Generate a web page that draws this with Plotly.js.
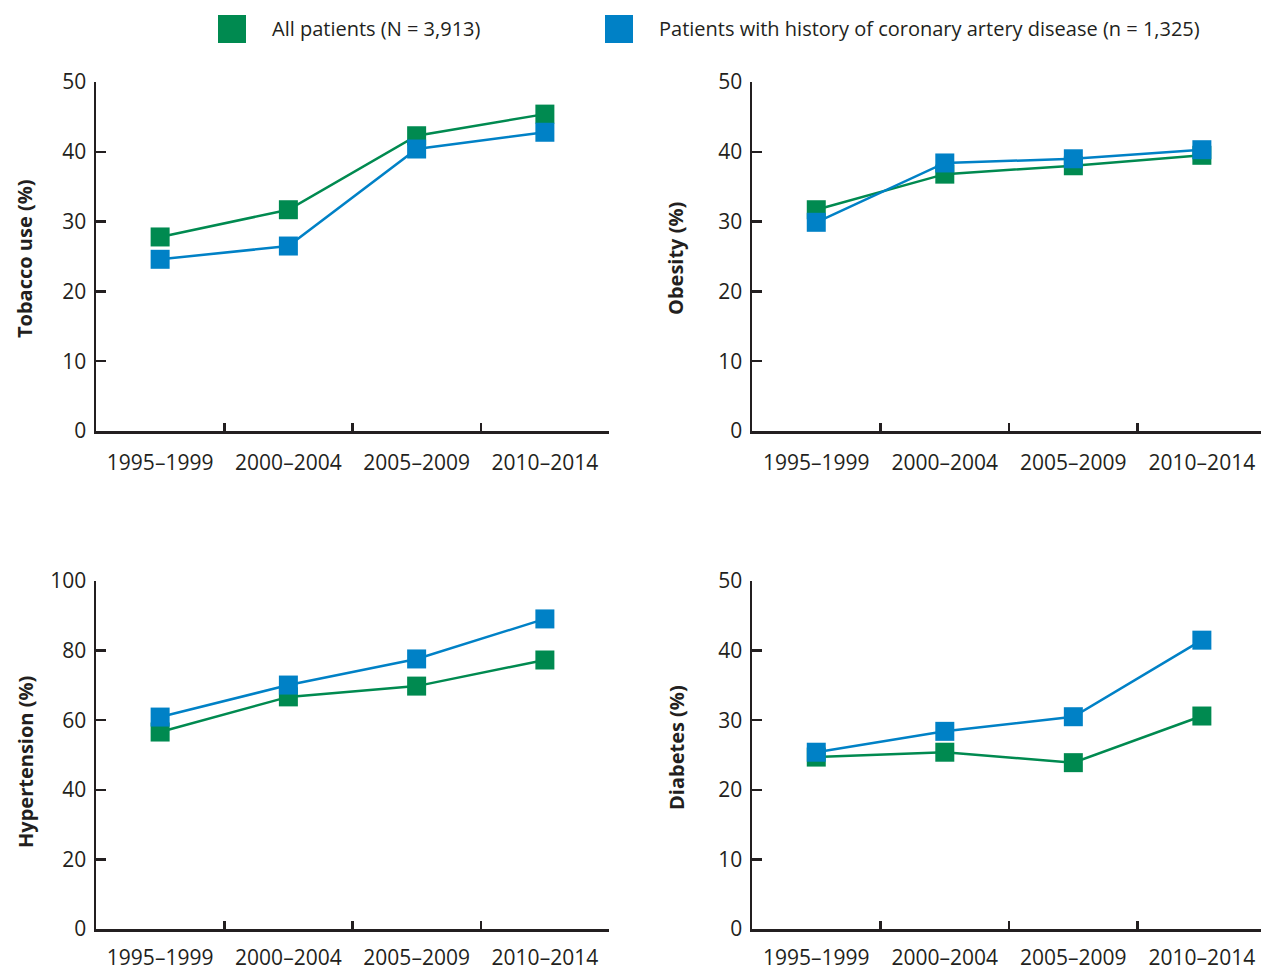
<!DOCTYPE html>
<html>
<head>
<meta charset="utf-8">
<script src="https://cdn.plot.ly/plotly-3.0.1.min.js"></script>
<style>html,body{margin:0;padding:0;background:#fff;}#chart{width:1261px;height:972px;}</style>
</head>
<body>
<div id="chart"></div>
<script>
var categories = ["1995\u20131999", "2000\u20132004", "2005\u20132009", "2010\u20132014"];
var seriesNames = ["All patients (N = 3,913)", "Patients with history of coronary artery disease (n = 1,325)"];

var tobaccoAll = [27.8, 31.7, 42.3, 45.4];
var tobaccoCAD = [24.6, 26.5, 40.4, 42.8];
var obesityAll = [31.7, 36.8, 38.0, 39.5];
var obesityCAD = [29.9, 38.4, 39.0, 40.3];
var hypertensionAll = [56.6, 66.7, 69.8, 77.3];
var hypertensionCAD = [60.9, 70.1, 77.6, 89.1];
var diabetesAll = [24.7, 25.4, 23.9, 30.6];
var diabetesCAD = [25.4, 28.4, 30.5, 41.5];

var panelTitles = ["Tobacco use (%)", "Obesity (%)", "Hypertension (%)", "Diabetes (%)"];
var yMax = [50, 50, 100, 50];
var yStep = [10, 10, 20, 10];

var GREEN = "#008a50";
var BLUE = "#0081c6";
var INK = "#231f20";
var FONT = "Open Sans";

var panels = [
  [tobaccoAll, tobaccoCAD],
  [obesityAll, obesityCAD],
  [hypertensionAll, hypertensionCAD],
  [diabetesAll, diabetesCAD]
];

var traces = [];
panels.forEach(function (p, i) {
  var ax = i === 0 ? "" : String(i + 1);
  [0, 1].forEach(function (s) {
    traces.push({
      type: "scatter",
      mode: "lines+markers",
      x: categories,
      y: p[s],
      xaxis: "x" + ax,
      yaxis: "y" + ax,
      name: seriesNames[s],
      showlegend: false,
      line: {color: s === 0 ? GREEN : BLUE, width: 2.5},
      marker: {symbol: "square", size: 19, color: s === 0 ? GREEN : BLUE},
      cliponaxis: false,
      hoverinfo: "x+y"
    });
  });
});

var W = 1261, H = 972;
function px(x) { return x / W; }
function py(y) { return 1 - y / H; }

var xDomains = [[px(96), px(609)], [px(752), 1], [px(96), px(609)], [px(752), 1]];
var yDomains = [[py(431), py(82)], [py(431), py(82)], [py(929), py(581)], [py(929), py(581)]];
var xRanges = [[-0.5, 3.5], [-0.5, 3.46], [-0.5, 3.5], [-0.5, 3.46]];
var labelStandoff = [11, 11, 8, 8];
var titleX = [25, 676, 25, 676];
var titleY = [259, 259, 762, 748];

var layout = {
  width: W, height: H,
  margin: {l: 0, r: 0, t: 0, b: 0},
  paper_bgcolor: "#fff",
  plot_bgcolor: "#fff",
  showlegend: false,
  font: {family: FONT, color: INK, size: 21},
  shapes: [],
  annotations: []
};

for (var i = 0; i < 4; i++) {
  var ax = i === 0 ? "" : String(i + 1);
  layout["xaxis" + ax] = {
    domain: xDomains[i],
    anchor: "y" + ax,
    type: "category",
    range: xRanges[i],
    tickson: "boundaries",
    ticks: "inside",
    ticklen: 8,
    tickwidth: 2.5,
    tickcolor: INK,
    showline: true,
    linecolor: INK,
    linewidth: 2.5,
    showgrid: false,
    zeroline: false,
    ticklabelstandoff: labelStandoff[i],
    ticklabeloverflow: "allow",
    tickfont: {family: FONT, size: 21, color: INK},
    fixedrange: true
  };
  layout["yaxis" + ax] = {
    domain: yDomains[i],
    anchor: "x" + ax,
    range: [0, yMax[i]],
    dtick: yStep[i],
    tick0: 0,
    ticks: "inside",
    ticklen: 10,
    tickwidth: 2.5,
    tickcolor: INK,
    showline: true,
    linecolor: INK,
    linewidth: 2.5,
    showgrid: false,
    zeroline: false,
    ticklabelstandoff: 3,
    tickfont: {family: FONT, size: 21, color: INK},
    fixedrange: true
  };
  layout.annotations.push({
    xref: "paper", yref: "paper", x: px(titleX[i]), y: py(titleY[i]),
    xanchor: "center", yanchor: "middle", showarrow: false, textangle: -90,
    text: "<b>" + panelTitles[i] + "</b>",
    font: {family: FONT, size: 20, color: INK}
  });
}

// legend
var legendItems = [
  {color: GREEN, x0: 218, text: seriesNames[0], tx: 270},
  {color: BLUE, x0: 605, text: seriesNames[1], tx: 657}
];
legendItems.forEach(function (it) {
  layout.shapes.push({
    type: "rect", xref: "paper", yref: "paper",
    x0: px(it.x0), x1: px(it.x0 + 28), y0: py(43), y1: py(15),
    fillcolor: it.color, line: {width: 0}
  });
  layout.annotations.push({
    xref: "paper", yref: "paper", x: px(it.tx), y: py(29),
    xanchor: "left", yanchor: "middle", showarrow: false,
    text: it.text, font: {family: FONT, size: 20, color: INK}
  });
});

Plotly.newPlot("chart", traces, layout, {displayModeBar: false, staticPlot: true});
</script>
</body>
</html>
